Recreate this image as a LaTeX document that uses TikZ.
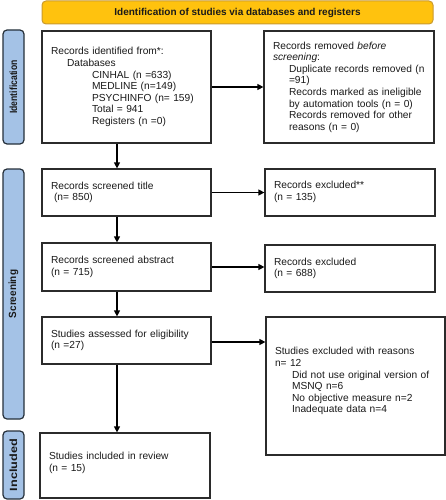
\documentclass[tikz,border=0pt]{standalone}
\usepackage{fontspec}
\setmainfont{Liberation Sans}
\usetikzlibrary{arrows.meta}
\definecolor{hdrfill}{HTML}{FFC20E}
\definecolor{hdrdraw}{HTML}{C99A2E}
\definecolor{sidefill}{HTML}{A4C2E6}
\definecolor{sidedraw}{HTML}{26303A}
\definecolor{boxdraw}{HTML}{2B2B2B}
\definecolor{txt}{HTML}{1A1A1A}
\begin{document}
\begin{tikzpicture}[x=1pt,y=-1pt,
  box/.style={draw=boxdraw,line width=1.2pt,fill=white,inner xsep=9pt,inner ysep=0pt,
    align=left,anchor=center,text=txt,font=\fontsize{10.2}{11.6}\selectfont},
  sidelabel/.style={draw=sidedraw,line width=1.2pt,fill=sidefill,rounded corners=4pt,
    rotate=90,inner sep=0pt,minimum height=21pt,text=txt,
    font=\fontsize{10.4}{12}\selectfont\bfseries},
  hdr/.style={draw=hdrdraw,line width=1pt,fill=hdrfill,rounded corners=4pt,inner sep=0pt,
    minimum width=391pt,minimum height=23pt,text=txt,font=\fontsize{10}{12}\selectfont\bfseries},
  arr/.style={draw=black,line width=1.2pt,-{Triangle[length=6pt,width=6pt]}}
]
\useasboundingbox (0,0) rectangle (446,500);

\node[hdr] (hdr) at (237.5,12.5) {Identification of studies via databases and registers};

\node[sidelabel,minimum width=114pt] (sid) at (13.5,87) {\scalebox{0.83}[1]{Identification}};
\node[sidelabel,minimum width=250pt] (sscr) at (13.5,294) {\scalebox{0.96}[1]{Screening}};
\node[sidelabel,minimum width=68pt] (sinc) at (13.5,465) {\scalebox{1.22}[1]{Included}};

\node[box,text width=151pt,minimum height=112pt] (b1) at (126.5,87)
  {Records identified from*:\\
   \hspace*{16pt}Databases\\
   \hspace*{41pt}CINHAL (n =633)\\
   \hspace*{41pt}MEDLINE (n=149)\\
   \hspace*{41pt}PSYCHINFO (n= 159)\\
   \hspace*{41pt}Total = 941\\
   \hspace*{41pt}Registers (n =0)};

\node[box,text width=152pt,minimum height=112pt] (r1) at (349,87)
  {Records removed \textit{before}\\
   \textit{screening}:\\
   \hspace*{16pt}Duplicate records removed (n\\
   \hspace*{16pt}=91)\\
   \hspace*{16pt}Records marked as ineligible\\
   \hspace*{16pt}by automation tools (n = 0)\\
   \hspace*{16pt}Records removed for other\\
   \hspace*{16pt}reasons (n = 0)};

\node[box,text width=151pt,minimum height=47pt] (b2) at (126.5,192.5)
  {Records screened title\\\hspace*{3pt}(n= 850)};
\node[box,text width=152pt,minimum height=47pt] (r2) at (350,192.5)
  {\mbox{}\\[-6pt]Records excluded**\\(n = 135)};

\node[box,text width=151pt,minimum height=48pt] (b3) at (126.5,267)
  {Records screened abstract\\(n = 715)};
\node[box,text width=152pt,minimum height=47pt] (r3) at (350,268.5)
  {Records excluded\\(n = 688)};

\node[box,text width=151pt,minimum height=47pt] (b4) at (126.5,340.5)
  {Studies assessed for eligibility\\(n =27)};
\node[box,text width=161pt,minimum height=138pt] (r4) at (355.5,386)
  {Studies excluded with reasons\\
   n= 12\\
   \hspace*{17pt}Did not use original version of\\
   \hspace*{17pt}MSNQ n=6\\
   \hspace*{17pt}No objective measure n=2\\
   \hspace*{17pt}Inadequate data n=4\\\mbox{}};

\node[box,text width=152pt,minimum height=65pt] (b5) at (125,465.5)
  {Studies included in review\\(n = 15)\\[-3.6pt]\mbox{}};

\draw[arr] (b1.east) -- (r1.west);
\draw[arr] ([xshift=-9.5pt]b1.south) -- ([xshift=-9.5pt]b2.north);
\draw[arr] (b2.east) -- (r2.west);
\draw[arr] ([xshift=-9.5pt]b2.south) -- ([xshift=-9.5pt]b3.north);
\draw[arr] (b3.east) -- (b3.east -| r3.west);
\draw[arr] ([xshift=-9.5pt]b3.south) -- ([xshift=-9.5pt]b4.north);
\draw[arr] ([yshift=-1.5pt]b4.east) -- ([yshift=-1.5pt]b4.east -| r4.west);
\draw[arr] ([xshift=-9.5pt]b4.south) -- ([xshift=-9.5pt]b4.south |- b5.north);
\end{tikzpicture}
\end{document}
